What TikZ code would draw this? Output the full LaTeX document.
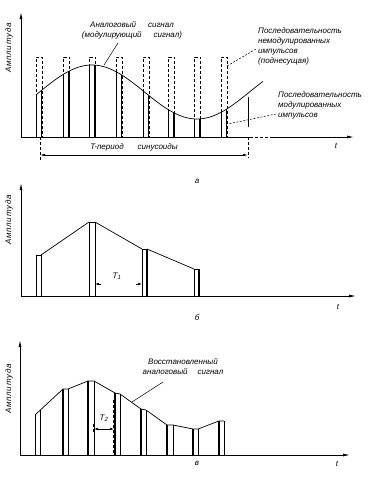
\documentclass[tikz,border=0pt]{standalone}
\usepackage{fontspec}
\setmainfont{Liberation Sans}
\usetikzlibrary{arrows.meta}
\begin{document}
\begin{tikzpicture}[x=1pt,y=-1pt,
  ax/.style={line width=0.8pt,-{Latex[length=7pt,width=3pt]}},
  ln/.style={line width=0.7pt},
  thk/.style={line width=1.5pt},
  dsh/.style={line width=0.6pt,dash pattern=on 3pt off 2pt},
  lead/.style={line width=0.5pt},
  dlead/.style={line width=0.5pt,dash pattern=on 2pt off 1.5pt},
  lbl/.style={font=\itshape\fontsize{8}{10}\selectfont, inner sep=0pt, align=left},
  ylbl/.style={font=\itshape\fontsize{8}{9}\selectfont\addfontfeature{LetterSpace=10}, rotate=90, inner sep=0pt},
  dimarr/.style={line width=0.6pt,-{Latex[length=4pt,width=2.5pt]}},
  dimboth/.style={line width=0.6pt,{Latex[length=4pt,width=2.5pt]}-{Latex[length=4pt,width=2.5pt]}}]
\useasboundingbox (0,0) rectangle (378,480);

% ---------- panel a ----------
\coordinate (oa) at (21,137);
\coordinate (yta) at (21,12);
\coordinate (xa1) at (250,137);
\coordinate (xa2) at (272,137);
\coordinate (xta) at (354,137);
\draw[ax] (oa) -- (yta);
\draw[ln] (oa) -- (xa1);
\draw[dsh] (xa1) -- (xa2);
\draw[ax] (xa2) -- (xta);
\node[lbl] (ta) at (336,146) {t};
\node[ylbl] (ya) at (9,48) {Амплитуда};

\draw[ln] plot[domain=36:263,samples=120,smooth] (\x,{92-27*cos(1.7142857*(\x-92))});
\foreach \p in {36,63.5,89.5,116,143,168.5,194.5,221}{
  \pgfmathsetmacro\ya{92-27*cos(1.7142857*(\p-92))}
  \pgfmathsetmacro\yb{92-27*cos(1.7142857*(\p+5.5-92))}
  \draw[dsh] (\p,137) rectangle (\p+6,57);
  \draw[ln] (\p,137) -- (\p,\ya);
  \draw[thk] (\p+5.5,137) -- (\p+5.5,\yb);
}
\draw[ln] (248,97) -- (248,127);

\coordinate (tl) at (40,155);
\coordinate (tr) at (248,155);
\draw[dsh] (40,137) -- (40,160);
\draw[dsh] (248,137) -- (248,158);
\draw[line width=0.6pt,{Latex[length=5pt,width=2.5pt]}-{Latex[length=5pt,width=2.5pt]}] (tl) -- (tr);
\node[lbl] (tper) at (134,147) {T-период\hspace{14pt}синусоиды};

\node[lbl,align=center] (an) at (132,30) {Аналоговый\hspace{12pt}сигнал\\(модулирующий\hspace{12pt}сигнал)};
\coordinate (an1) at (118,43);
\coordinate (an2) at (104,65);
\draw[lead] (an1) -- (an2);

\node[lbl,anchor=north west] (pn) at (258,27) {Последовательность\\немодулированных\\импульсов\\(поднесущая)};
\coordinate (pn1) at (256,49);
\coordinate (pn2) at (227,66);
\draw[dlead] (pn1) -- (pn2);

\node[lbl,anchor=north west] (pm) at (278,91) {Последовательность\\модулированных\\импульсов};
\coordinate (pm1) at (276,114);
\coordinate (pm2) at (228,124);
\draw[dlead] (pm1) -- (pm2);

\node[lbl] (la) at (197,181) {а};

% ---------- panel b ----------
\coordinate (ob) at (21,296);
\coordinate (ytb) at (21,183);
\coordinate (xtb) at (356,296);
\draw[ax] (ob) -- (ytb);
\draw[ax] (ob) -- (xtb);
\node[lbl] (tb) at (338,307) {t};
\node[ylbl] (yb) at (9,220) {Амплитуда};

\draw[ln] (36,296) rectangle (41,255);
\draw[ln] (89,296) rectangle (95,222);
\draw[ln] (142,296) rectangle (147,249);
\draw[ln] (194,296) rectangle (199,269);
\draw[thk] (89.5,296) -- (89.5,222);
\draw[thk] (146.5,296) -- (146.5,249);
\draw[thk] (198.5,296) -- (198.5,269);
\draw[ln] (41,255) -- (89,222);
\draw[ln] (95,222) -- (142,249);
\draw[ln] (147,249) -- (194,269);
\draw[dsh] (95,237) -- (95,293);
\coordinate (t1a) at (101,284);
\coordinate (t1b) at (95,284);
\coordinate (t1c) at (136,284);
\coordinate (t1d) at (142,284);
\draw[dimarr] (t1a) -- (t1b);
\draw[dimarr] (t1c) -- (t1d);
\node[lbl] (T1) at (117,276) {T\textsubscript{1}};
\node[lbl] (lb) at (197,318) {б};

% ---------- panel c ----------
\coordinate (oc) at (20,455);
\coordinate (ytc) at (20,340);
\coordinate (xtc) at (350,455);
\draw[ax] (oc) -- (ytc);
\draw[ax] (oc) -- (xtc);
\node[lbl] (tc) at (337,464) {t};
\node[ylbl] (yc) at (9,389) {Амплитуда};

\draw[ln] (35,415) -- (63,389) -- (68,389) -- (88,381) -- (94,381) -- (115,393) -- (120,394)
  -- (141,409) -- (146,410) -- (167,425) -- (173,425) -- (193,429) -- (198,429) -- (219,421) -- (224,421);
\draw[ln] (35,455) -- (35,415);
\draw[ln] (40,455) -- (40,410.4);
\foreach \xl/\xr/\tl/\tr in {63/68/389/389, 88/94/381/381, 115/120/393/394, 141/146/409/410, 167/173/425/425, 193/198/429/429, 219/224/421/421}{
  \draw[thk] (\xl,455) -- (\xl,\tl);
  \draw[ln] (\xr,455) -- (\xr,\tr);
}
\draw[dsh] (113,400) -- (113,453);
\draw[dsh] (93,424) -- (93,434);
\coordinate (t2a) at (94,429);
\coordinate (t2b) at (114,429);
\draw[dimboth] (t2a) -- (t2b);
\node[lbl] (T2) at (104,418) {T\textsubscript{2}};

\node[lbl,align=center] (vs) at (183,367) {Восстановленный\\аналоговый\hspace{10pt}сигнал};
\coordinate (vs1) at (163,382);
\coordinate (vs2) at (132,402);
\draw[lead] (vs1) -- (vs2);
\node[lbl] (lc) at (197,463) {в};
\end{tikzpicture}
\end{document}
